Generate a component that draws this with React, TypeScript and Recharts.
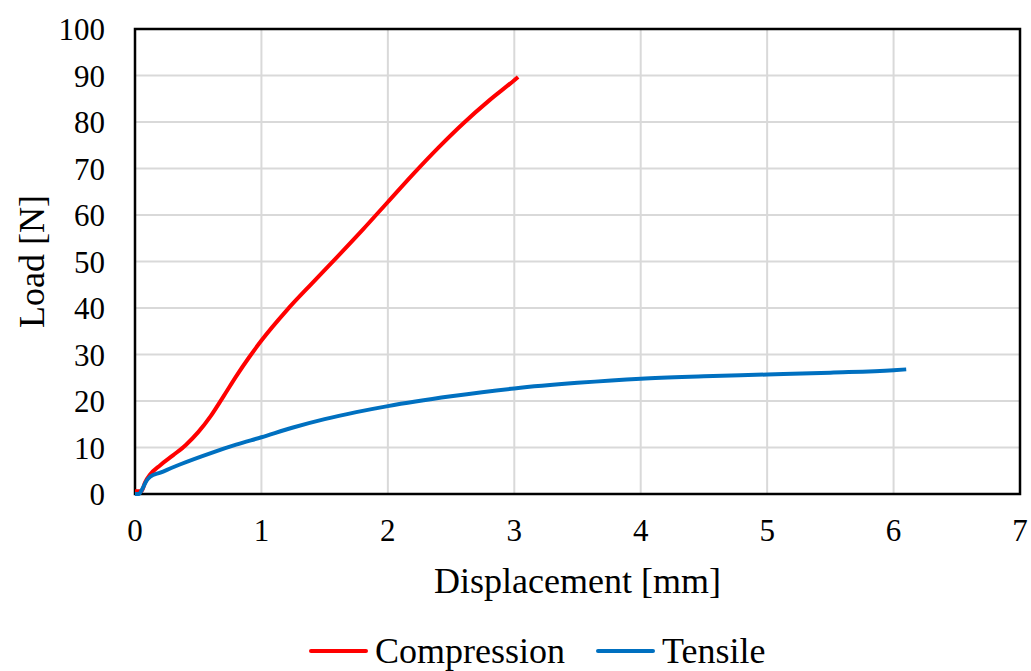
import {
  LineChart,
  Line,
  XAxis,
  YAxis,
  CartesianGrid,
  Legend,
  ReferenceArea,
} from "recharts";

// Displacement [mm] vs load [N]
const compressionX = [0, 0.05, 0.08, 0.12, 0.2, 0.3, 0.4, 0.5, 0.6, 0.7, 0.8, 0.9, 1.0, 1.2, 1.4, 1.6, 1.8, 2.0, 2.2, 2.4, 2.6, 2.8, 3.0, 3.03];
const compressionY = [0.6, 0.6, 2.5, 4.2, 6.2, 8.3, 10.5, 13.3, 16.8, 21, 25.3, 29.3, 33, 39.5, 45.3, 51, 56.8, 62.8, 68.8, 74.5, 79.8, 84.6, 89, 89.7];

const tensileX = [0, 0.03, 0.06, 0.09, 0.12, 0.2, 0.36, 0.6, 0.8, 1.0, 1.25, 1.5, 1.75, 2.0, 2.5, 3.0, 3.5, 4.0, 4.5, 5.0, 5.5, 6.0, 6.1];
const tensileY = [0, 0, 1.2, 2.8, 3.7, 4.6, 6.4, 8.8, 10.6, 12.2, 14.3, 16.1, 17.6, 18.9, 21, 22.7, 23.9, 24.8, 25.3, 25.7, 26.1, 26.6, 26.8];

const xTicks = [0, 1, 2, 3, 4, 5, 6, 7];
const yTicks = [0, 10, 20, 30, 40, 50, 60, 70, 80, 90, 100];

const compressionData = compressionX.map((x, i) => ({ x, y: compressionY[i] }));
const tensileData = tensileX.map((x, i) => ({ x, y: tensileY[i] }));

const FONT = "'Liberation Serif', 'Times New Roman', serif";
const RED = "#ff0000";
const BLUE = "#0070c0";

const legendItems = [
  { name: "Compression", color: RED },
  { name: "Tensile", color: BLUE },
];

const LegendContent = () => (
  <div
    style={{
      height: 78,
      boxSizing: "border-box",
      paddingTop: 38,
      paddingLeft: 309,
      display: "flex",
      fontFamily: FONT,
      fontSize: 36,
      lineHeight: "40px",
      color: "#000",
    }}
  >
    {legendItems.map((item, i) => (
      <div key={item.name} style={{ display: "flex", alignItems: "center", marginRight: i === 0 ? 31 : 0 }}>
        <span
          style={{
            display: "inline-block",
            width: 59,
            height: 4,
            borderRadius: 2,
            backgroundColor: item.color,
            marginRight: 7,
          }}
        />
        <span>{item.name}</span>
      </div>
    ))}
  </div>
);

export default function App() {
  return (
    <div style={{ position: "absolute", left: 0, top: 0 }}>
      <LineChart
        width={1031}
        height={671}
        margin={{ top: 29, right: 11, bottom: 0, left: 0 }}
      >
        <CartesianGrid stroke="#d9d9d9" strokeWidth={2} />
        <XAxis
          type="number"
          dataKey="x"
          domain={[0, 7]}
          ticks={xTicks}
          height={99}
          axisLine={false}
          tickLine={false}
          tickMargin={19}
          tick={{ fontSize: 31, fontFamily: FONT, fill: "#000" }}
          label={{
            value: "Displacement [mm]",
            position: "insideBottom",
            offset: 0,
            style: { fontSize: 36, fontFamily: FONT, fill: "#000" },
          }}
        />
        <YAxis
          type="number"
          dataKey="y"
          domain={[0, 100]}
          ticks={yTicks}
          width={135}
          axisLine={false}
          tickLine={false}
          tickMargin={24}
          tick={{ fontSize: 31, fontFamily: FONT, fill: "#000" }}
          label={({ viewBox }: any) => (
            <text
              x={viewBox.x + 32}
              y={viewBox.y + viewBox.height / 2}
              transform={`rotate(-90, ${viewBox.x + 32}, ${viewBox.y + viewBox.height / 2})`}
              textAnchor="middle"
              dominantBaseline="central"
              fontSize={36}
              fontFamily={FONT}
              fill="#000"
            >
              Load [N]
            </text>
          )}
        />
        <ReferenceArea
          x1={0}
          x2={7}
          y1={0}
          y2={100}
          fill="none"
          stroke="#000"
          strokeWidth={2.5}
          ifOverflow="visible"
        />
        <Legend verticalAlign="bottom" content={<LegendContent />} />
        <Line
          data={compressionData}
          dataKey="y"
          name="Compression"
          type="monotone"
          stroke={RED}
          strokeWidth={4}
          dot={false}
          isAnimationActive={false}
        />
        <Line
          data={tensileData}
          dataKey="y"
          name="Tensile"
          type="monotone"
          stroke={BLUE}
          strokeWidth={4}
          dot={false}
          isAnimationActive={false}
        />
      </LineChart>
    </div>
  );
}
